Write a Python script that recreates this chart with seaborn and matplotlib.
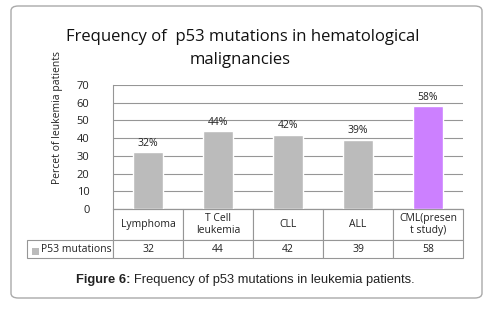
import matplotlib
matplotlib.use("Agg")
import matplotlib.pyplot as plt
import seaborn as sns
import pandas as pd
from matplotlib.patches import FancyBboxPatch, Rectangle

categories = ["Lymphoma", "T Cell\nleukemia", "CLL", "ALL", "CML(presen\nt study)"]
values = [32, 44, 42, 39, 58]
labels = ["32%", "44%", "42%", "39%", "58%"]
series_name = "P53 mutations"
bar_colors = ["#BBBBBB", "#BBBBBB", "#BBBBBB", "#BBBBBB", "#CC80FF"]
yticks = [0, 10, 20, 30, 40, 50, 60, 70]

sns.set_theme(style="white")
plt.rcParams['font.family'] = ['Open Sans', 'DejaVu Sans']

W, H = 490, 317
fig = plt.figure(figsize=(W / 100, H / 100), dpi=100)

def fx(px):
    return px / W

def fy(py):
    return 1 - py / H

# outer rounded border
border = FancyBboxPatch((fx(11), fy(298)), fx(471), (298 - 6) / H,
                        boxstyle="round,pad=0,rounding_size=0.015",
                        transform=fig.transFigure, facecolor="none",
                        edgecolor="#AAAAAA", linewidth=1.0, zorder=-1)
fig.patches.append(border)

ax_l, ax_r, ax_t, ax_b = 113, 463, 85, 209
ax_h = ax_b - ax_t
ax_w = ax_r - ax_l
ax = fig.add_axes([fx(ax_l), fy(ax_b), ax_w / W, ax_h / H])
ax.set_facecolor("none")

df = pd.DataFrame({"cat": categories, "val": values})
sns.barplot(data=df, x="cat", y="val", hue="cat", palette=bar_colors,
            legend=False, width=0.42, ax=ax, zorder=3, saturation=1)

for i, (v, lab) in enumerate(zip(values, labels)):
    ax.text(i, v + 2, lab, ha="center", va="bottom", fontsize=7.5, color="#222222")

ax.set_ylim(0, 70)
ax.set_yticks(yticks)
ax.set_yticklabels([str(t) for t in yticks], fontsize=8, color="#222222")
ax.set_xticks([])
ax.set_xlabel("")
ax.set_ylabel("Percet of leukemia patients", fontsize=7.5, color="#222222")
ax.yaxis.set_label_coords((63 - ax_l) / ax_w, (ax_b - 118) / ax_h)
ax.yaxis.grid(True, color="#969696", linewidth=0.8, zorder=0)
ax.tick_params(axis="y", length=0, pad=17)
for s in ["left", "top", "right", "bottom"]:
    ax.spines[s].set_color("#969696")
    ax.spines[s].set_linewidth(0.8)
ax.spines["right"].set_visible(False)
ax.spines["top"].set_visible(False)

# data table under the axes
tab_left = 27
h_total = 258 - ax_b
cell_text = [[""] + categories,
             [series_name] + [str(v) for v in values]]
tbl = ax.table(cellText=cell_text, cellLoc="center",
               bbox=[-(ax_l - tab_left) / ax_w, -h_total / ax_h,
                     (ax_r - tab_left) / ax_w, h_total / ax_h])
tbl.auto_set_font_size(False)
for (r, c), cell in tbl.get_celld().items():
    cell.set_edgecolor("#969696")
    cell.set_linewidth(0.8)
    cell.get_text().set_fontsize(7.5)
    cell.get_text().set_color("#222222")
    cell.set_height(31 if r == 0 else 18)
    cell.set_width((ax_l - tab_left) if c == 0 else ax_w / 5)
    if c == 0:
        cell.get_text().set_horizontalalignment("right")
        cell._loc = "right"
        cell.PAD = 0.02
    if r == 0 and c == 0:
        cell.visible_edges = ""

# legend key in the row label cell
fig.patches.append(Rectangle((fx(32), fy(255)), fx(6.5), 7.5 / H, transform=fig.transFigure,
                             facecolor="#BBBBBB", edgecolor="none", zorder=5))

fig.text(0.495, fy(37), "Frequency of  p53 mutations in hematological",
         ha="center", va="center", fontsize=12, color="#111111")
fig.text(0.49, fy(60), "malignancies", ha="center", va="center", fontsize=12, color="#111111")

cap1 = fig.text(fx(76), fy(280), "Figure 6:", ha="left", va="center", fontsize=9.3,
                fontweight="bold", family=["Liberation Sans", "DejaVu Sans"], color="#222222")
fig.canvas.draw()
bb = cap1.get_window_extent()
fig.text(bb.x1 / W + fx(4), fy(280), "Frequency of p53 mutations in leukemia patients.",
         ha="left", va="center", fontsize=9.3, family=["Liberation Sans", "DejaVu Sans"],
         color="#222222")

fig.savefig("out.png", dpi=100)
